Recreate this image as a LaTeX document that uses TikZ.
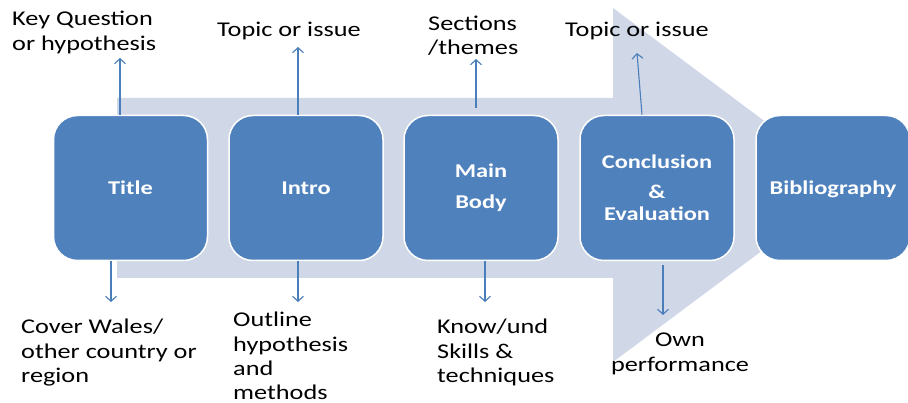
\documentclass[tikz,border=0pt]{standalone}
\usepackage{fontspec}
\setmainfont{Carlito}[FakeStretch=1.25]
\usetikzlibrary{arrows.meta,calc}
\definecolor{boxblue}{HTML}{4F81BD}
\definecolor{arrowgrey}{HTML}{D0D8E8}
\definecolor{linkblue}{HTML}{4A7EBB}
\tikzset{
  stage/.style={draw=white, line width=1.5pt, fill=boxblue, rounded corners=24pt,
    minimum width=154pt, minimum height=145pt, text=white,
    font=\fontsize{19.5}{22}\selectfont\bfseries, align=center, inner sep=0pt},
  lbl/.style={font=\fontsize{21}{24.3}\selectfont, align=left, inner sep=0pt, text=black},
  conn/.style={draw=linkblue, line width=1.1pt, -{Straight Barb[length=5pt,width=11pt]}}
}
\begin{document}
\begin{tikzpicture}[x=1pt,y=-1pt]
\useasboundingbox (0,0) rectangle (908,403);
\fill[white] (0,0) rectangle (908,403);
% big background arrow
\fill[arrowgrey] (117,98) -- (613,98) -- (613,8) -- (850,185) -- (613,362) -- (613,278) -- (117,278) -- cycle;
% stages
\node[stage] (title) at (130.5,188) {Title};
\node[stage] (intro) at (306,188) {Intro};
\node[stage] (main) at (481,188) {Main\\[9pt]Body};
\node[stage] (concl) at (657,188) {Conclusion\\[8pt]\&\\Evaluation};
\node[stage, text depth=0pt] (bib) at (833,188) {Bibliography};
% labels
\node[lbl, anchor=north west] (kq) at (12,11) {Key Question\\or hypothesis};
\node[lbl, anchor=base west] (topic1) at (217,37) {Topic or issue};
\node[lbl, anchor=north west] (sect) at (428,15.5) {Sections\\/themes};
\node[lbl, anchor=base west] (topic2) at (565,37) {Topic or issue};
\node[lbl, anchor=north west] (cover) at (21,319) {Cover Wales/\\other country or\\region};
\node[lbl, anchor=north west] (outline) at (233,312) {Outline\\hypothesis\\and\\methods};
\node[lbl, anchor=north west] (know) at (437,319) {Know/und\\Skills \&\\techniques};
\node[lbl, anchor=north, align=center] (own) at (680,333) {Own\\performance};
% connector free ends
\coordinate (e1) at (120,58);
\coordinate (e2) at (111,302);
\coordinate (e3) at (298,47);
\coordinate (e4) at (298,302);
\coordinate (e5) at (476,59);
\coordinate (e6) at (485,302);
\coordinate (e7) at (637,53);
\coordinate (e8) at (663,315);
\draw[conn] ($(title.north)+(-10.5,0)$) -- (e1);
\draw[conn] ($(title.south)+(-19.5,0)$) -- (e2);
\draw[conn] ($(intro.north)+(-8,0)$) -- (e3);
\draw[conn] ($(intro.south)+(-8,0)$) -- (e4);
\draw[conn] ($(main.north)+(-5,-7)$) -- (e5);
\draw[conn] ($(main.south)+(4,0)$) -- (e6);
\draw[conn] ($(concl.north)+(-15,0)$) -- (e7);
\draw[conn] ($(concl.south)+(6,4)$) -- (e8);
\end{tikzpicture}
\end{document}
